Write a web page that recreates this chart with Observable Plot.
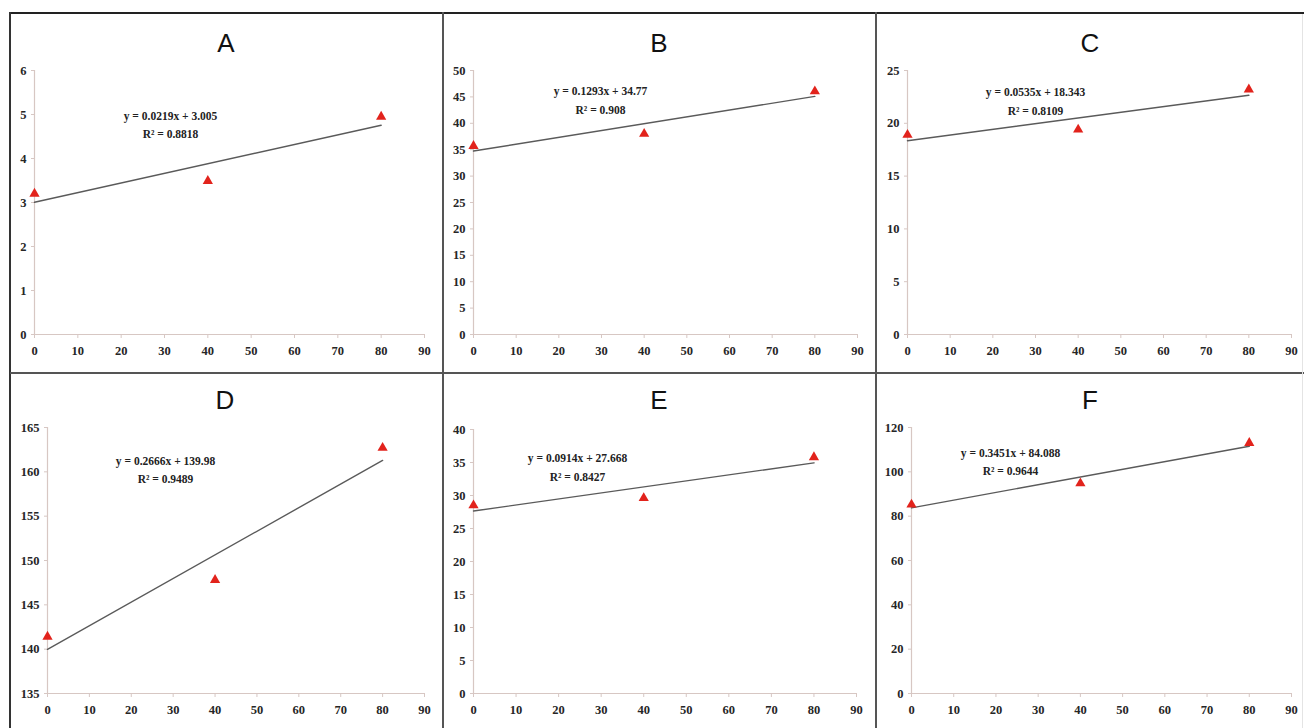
<!DOCTYPE html>
<html><head><meta charset="utf-8">
<script src="https://cdn.jsdelivr.net/npm/d3@7"></script>
<script src="https://cdn.jsdelivr.net/npm/@observablehq/plot@0.6"></script>
<style>
body{margin:0;background:#fff;}
#wrap{position:relative;width:1304px;height:728px;overflow:hidden;background:#fff;}
.panel{position:absolute;}
.panel svg{overflow:visible;}
.title{position:absolute;font-family:"Liberation Sans",Arial,sans-serif;font-size:26px;line-height:26px;color:#111;transform:translateX(-50%);white-space:nowrap;}
.rule{position:absolute;}
</style></head><body><div id="wrap"></div>
<script>
// ---- data ----
const panelNames = ["A", "B", "C", "D", "E", "F"];
const xValues = [0, 40, 80];
const valuesA = [3.2, 3.49, 4.95];
const valuesB = [35.7, 38.0, 46.05];
const valuesC = [18.9, 19.4, 23.2];
const valuesD = [141.4, 147.8, 162.7];
const valuesE = [28.5, 29.6, 35.8];
const valuesF = [85.2, 94.8, 113.0];
const equations = ["y = 0.0219x + 3.005", "y = 0.1293x + 34.77", "y = 0.0535x + 18.343",
                   "y = 0.2666x + 139.98", "y = 0.0914x + 27.668", "y = 0.3451x + 84.088"];
const r2Labels = ["R² = 0.8818", "R² = 0.908", "R² = 0.8109", "R² = 0.9489", "R² = 0.8427", "R² = 0.9644"];
const xTicks = [0, 10, 20, 30, 40, 50, 60, 70, 80, 90];
const yTicksA = [0, 1, 2, 3, 4, 5, 6];
const yTicksB = [0, 5, 10, 15, 20, 25, 30, 35, 40, 45, 50];
const yTicksC = [0, 5, 10, 15, 20, 25];
const yTicksD = [135, 140, 145, 150, 155, 160, 165];
const yTicksE = [0, 5, 10, 15, 20, 25, 30, 35, 40];
const yTicksF = [0, 20, 40, 60, 80, 100, 120];

const seriesValues = [valuesA, valuesB, valuesC, valuesD, valuesE, valuesF];
const yTickSets = [yTicksA, yTicksB, yTicksC, yTicksD, yTicksE, yTicksF];

// ---- layout (page pixels) ----
const layout = [
  {left: 11,  top: 14,  w: 432, h: 359, x0: 34,  x90: 424,  yt: 70,  yb: 334, ex: 170,  ey: 122.5, tx: 226,  ty: 30},
  {left: 444, top: 14,  w: 432, h: 359, x0: 473, x90: 857,  yt: 70,  yb: 334, ex: 600,  ey: 98,    tx: 659,  ty: 30},
  {left: 877, top: 14,  w: 427, h: 359, x0: 907, x90: 1291, yt: 70,  yb: 334, ex: 1035, ey: 99,    tx: 1090, ty: 30},
  {left: 11,  top: 374, w: 432, h: 354, x0: 47,  x90: 424,  yt: 427, yb: 693, ex: 165,  ey: 467.5, tx: 225,  ty: 387},
  {left: 444, top: 374, w: 432, h: 354, x0: 473, x90: 856,  yt: 429, yb: 693, ex: 577,  ey: 465,   tx: 659,  ty: 387},
  {left: 877, top: 374, w: 427, h: 354, x0: 911, x90: 1291, yt: 427, yb: 693, ex: 1010, ey: 459.5, tx: 1090, ty: 387}
];

const wrap = document.getElementById("wrap");
const axisColor = "#d7c7c3";
const labelColor = "#262626";
const fmt = d => String(d);

panelNames.forEach((name, i) => {
  const L = layout[i];
  const ticks = yTickSets[i];
  const yDomain = [ticks[0], ticks[ticks.length - 1]];
  const data = xValues.map((x, j) => ({x, y: seriesValues[i][j]}));
  const chart = Plot.plot({
    width: L.w, height: L.h,
    marginLeft: L.x0 - L.left,
    marginRight: (L.left + L.w) - L.x90,
    marginTop: L.yt - L.top,
    marginBottom: (L.top + L.h) - L.yb,
    style: {fontFamily: '"Liberation Serif","Times New Roman",serif', fontSize: "12px", fontWeight: "bold", background: "transparent"},
    x: {domain: [0, 90]},
    y: {domain: yDomain},
    marks: [
      Plot.ruleX([0], {stroke: axisColor, strokeWidth: 1.2}),
      Plot.ruleY([yDomain[0]], {stroke: axisColor, strokeWidth: 1.2}),
      Plot.axisX({ticks: xTicks, tickFormat: fmt, tickSize: 4, tickPadding: 8, stroke: axisColor, fill: labelColor, label: null, fontSize: 12.5}),
      Plot.axisY({ticks: ticks, tickFormat: fmt, tickSize: 3, tickPadding: 5, stroke: axisColor, fill: labelColor, label: null, fontSize: 12.5}),
      Plot.linearRegressionY(data, {x: "x", y: "y", ci: 0, stroke: "#5a5a5a", strokeWidth: 1.4}),
      Plot.dot(data, {x: "x", y: "y", symbol: "triangle", r: 3.8, fill: "#e2231c", stroke: "none"}),
      Plot.text([equations[i] + "\n" + r2Labels[i]], {
        frameAnchor: "top-left", dx: L.ex - L.x0, dy: L.ey - L.yt,
        textAnchor: "middle", lineAnchor: "middle", lineHeight: 1.6,
        fontSize: 11.5, fontWeight: "bold", fill: "#222"
      })
    ]
  });
  const holder = document.createElement("div");
  holder.className = "panel";
  holder.style.left = L.left + "px";
  holder.style.top = L.top + "px";
  holder.appendChild(chart);
  wrap.appendChild(holder);

  const t = document.createElement("div");
  t.className = "title";
  t.style.left = L.tx + "px";
  t.style.top = L.ty + "px";
  t.textContent = name;
  wrap.appendChild(t);
});

// frame lines
function rule(x, y, w, h, color) {
  const d = document.createElement("div");
  d.className = "rule";
  Object.assign(d.style, {left: x + "px", top: y + "px", width: w + "px", height: h + "px", background: color});
  wrap.appendChild(d);
}
rule(10, 12, 1294, 2, "#222");
rule(9, 12, 2, 716, "#333");
rule(442, 12, 2, 716, "#555");
rule(875, 12, 2, 716, "#555");
rule(10, 372, 1294, 2, "#555");
rule(1302, 14, 1, 714, "#e4e4e4");
</script></body></html>
